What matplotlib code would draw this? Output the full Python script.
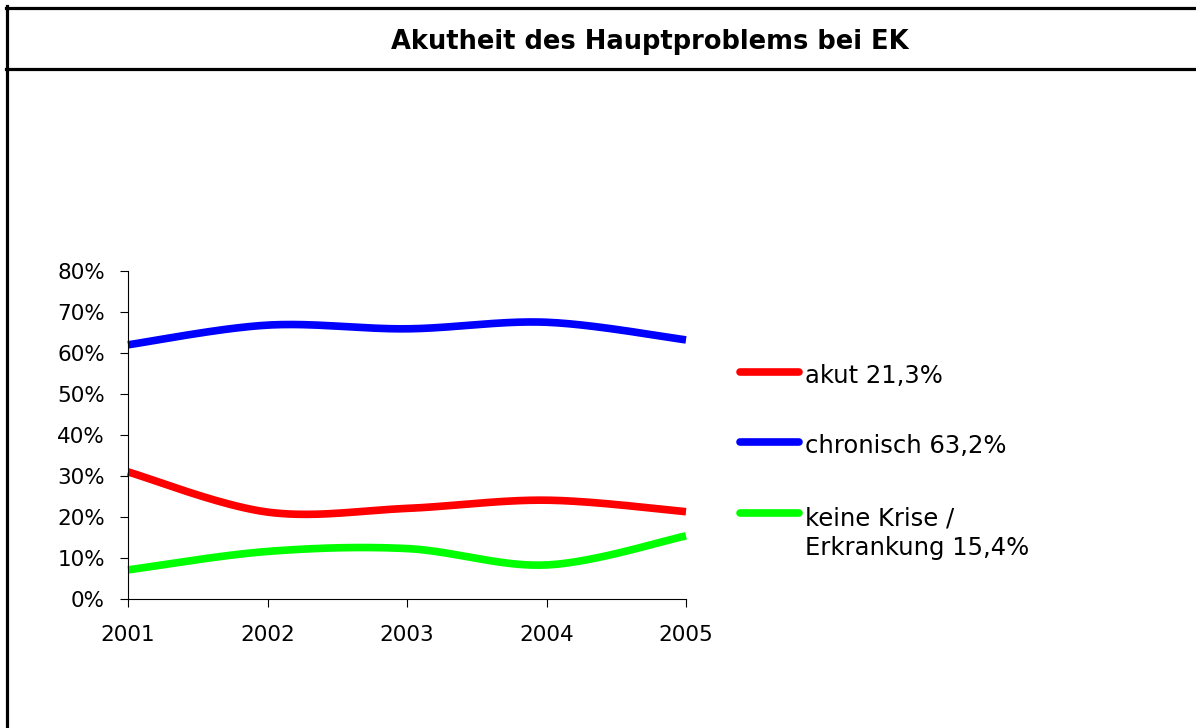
import numpy as np
import matplotlib
matplotlib.use("Agg")
import matplotlib.pyplot as plt
from matplotlib.lines import Line2D

years = [2001, 2002, 2003, 2004, 2005]
akut = [31.0, 21.2, 22.1, 24.1, 21.3]
chronisch = [62.0, 66.8, 65.9, 67.5, 63.2]
keine = [7.1, 11.6, 12.3, 8.3, 15.4]
labels = [["akut 21,3%"], ["chronisch 63,2%"], ["keine Krise /", "Erkrankung 15,4%"]]
colors = ["#FF0000", "#0000FF", "#00FF00"]
title = "Akutheit des Hauptproblems bei EK"

W, H = 1196, 728
fig = plt.figure(figsize=(W / 100, H / 100), dpi=100)
plt.rcParams['font.family'] = ['DejaVu Sans']


def smooth(x, y, n=40):
    # Catmull-Rom style bezier smoothing (like Excel "smoothed line")
    x = np.asarray(x, float)
    y = np.asarray(y, float)
    P = np.column_stack([x, y])
    Pe = np.vstack([P[0], P, P[-1]])
    out = []
    for i in range(len(P) - 1):
        p0, p1, p2, p3 = Pe[i], Pe[i + 1], Pe[i + 2], Pe[i + 3]
        c1 = p1 + (p2 - p0) / 6.0
        c2 = p2 - (p3 - p1) / 6.0
        t = np.linspace(0, 1, n)[:, None]
        seg = ((1 - t) ** 3) * p1 + 3 * ((1 - t) ** 2) * t * c1 + 3 * (1 - t) * t ** 2 * c2 + t ** 3 * p2
        out.append(seg if i == 0 else seg[1:])
    S = np.vstack(out)
    return S[:, 0], S[:, 1]


ax = fig.add_axes([128 / W, 1 - 599 / H, (686 - 128) / W, (599 - 271) / H])
for data, c in zip([akut, chronisch, keine], colors):
    sx, sy = smooth(years, data)
    ax.plot(sx, sy, color=c, lw=5.5, solid_capstyle='butt', clip_on=False)

ax.set_xlim(2001, 2005)
ax.set_ylim(0, 80)
ax.set_xticks(years)
ax.set_xticklabels([str(y) for y in years])
ax.set_yticks(range(0, 81, 10))
ax.set_yticklabels([f"{v}%" for v in range(0, 81, 10)])
for s in ['top', 'right']:
    ax.spines[s].set_visible(False)
for s in ['left', 'bottom']:
    ax.spines[s].set_color('black')
    ax.spines[s].set_linewidth(0.8)
ax.tick_params(axis='both', direction='out', length=5.5, width=0.8, colors='black', labelsize=15.5)
ax.tick_params(axis='y', pad=11)
ax.tick_params(axis='x', pad=13)

# legend (manual)
ys = [372, 442, 513]
baselines = [[383], [453], [525, 555]]
for yv, labs, bls, c in zip(ys, labels, baselines, colors):
    fig.add_artist(Line2D([740 / W, 799 / W], [1 - yv / H, 1 - yv / H], color=c, lw=5.5,
                          solid_capstyle='round'))
    for lab, bl in zip(labs, bls):
        fig.text(805 / W, 1 - bl / H, lab, ha='left', va='baseline', fontsize=17.5)

# frame and title
fig.add_artist(Line2D([6 / W, 1], [1 - 7.5 / H, 1 - 7.5 / H], color='black', lw=2.3))
fig.add_artist(Line2D([6.5 / W, 6.5 / W], [1 - 6 / H, 0], color='black', lw=2.3))
fig.add_artist(Line2D([6 / W, 1], [1 - 68.5 / H, 1 - 68.5 / H], color='black', lw=2.3))
fig.text(650 / W, 1 - 42 / H, title, ha='center', va='center', fontsize=18.5, fontweight='bold')

fig.savefig("out.png", dpi=100, facecolor='white')
